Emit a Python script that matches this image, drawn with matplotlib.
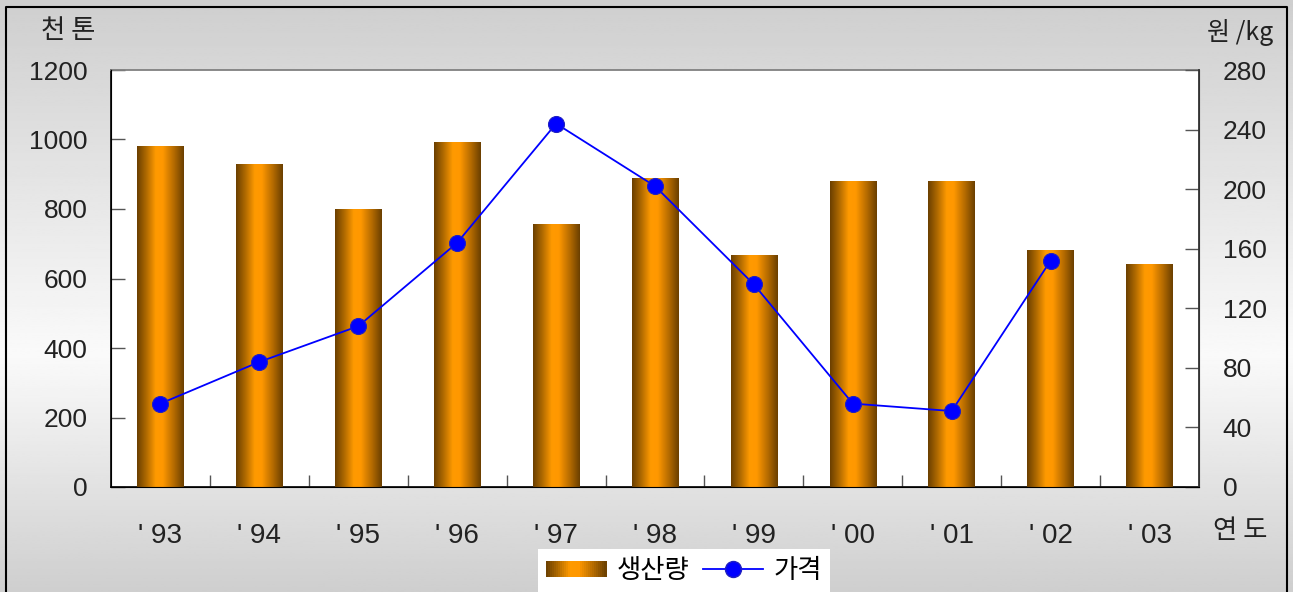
import numpy as np
import matplotlib
matplotlib.use("Agg")
import matplotlib.pyplot as plt
from matplotlib.colors import LinearSegmentedColormap
from matplotlib.patches import Rectangle
from matplotlib.lines import Line2D
from matplotlib.legend_handler import HandlerBase

plt.rcParams['font.family'] = ['Liberation Sans', 'Noto Sans CJK KR', 'DejaVu Sans']

years = ["' 93", "' 94", "' 95", "' 96", "' 97", "' 98", "' 99", "' 00", "' 01", "' 02", "' 03"]
production = [981, 929, 800, 993, 757, 889, 668, 881, 881, 682, 642]
price = [56, 84, 108, 164, 244, 202, 136, 56, 51, 152, np.nan]

bar_cmap = LinearSegmentedColormap.from_list(
    'bar', [(0.0, '#6a3f00'), (0.2, '#b06a00'), (0.4, '#ff9a00'), (0.55, '#ff9800'),
            (0.8, '#b06800'), (1.0, '#6a3f00')])

W, H = 1293, 592
fig = plt.figure(figsize=(W / 100, H / 100), dpi=100)

# background gradient
bg = fig.add_axes([0, 0, 1, 1], zorder=-10)
yy = np.linspace(0, 1, 300)
peak = 0.40
vals = np.where(yy < peak, 0.81 + (0.98 - 0.81) * (yy / peak),
                0.98 - (0.98 - 0.81) * ((yy - peak) / (1 - peak)))
img = np.repeat(vals[:, None], 2, axis=1)
bg.imshow(img, cmap='gray', vmin=0, vmax=1, aspect='auto', extent=[0, 1, 0, 1], origin='lower')
bg.set_xlim(0, 1); bg.set_ylim(0, 1); bg.axis('off')
# outer frame
x0, x1 = 6 / W, 1287 / W
yt = 1 - 7 / H
bg.plot([x0, x0, x1, x1], [0, yt, yt, 0], color='black', lw=1.5, transform=bg.transAxes, clip_on=False)

ax1 = fig.add_axes([111 / W, (H - 487) / H, (1199 - 111) / W, (487 - 70) / H])
ax1.set_facecolor('white')
x = np.arange(len(years))
bw = 0.47
bars = ax1.bar(x, production, width=bw, color='#ff9900', linewidth=0, zorder=2)
grad = np.linspace(0, 1, 256)[None, :]
for b in bars:
    bx, by = b.get_x(), b.get_y()
    im = ax1.imshow(grad, cmap=bar_cmap, aspect='auto',
                    extent=[bx, bx + b.get_width(), by, by + b.get_height()], zorder=3)
    im.set_clip_path(b)

ax1.set_xlim(-0.5, len(years) - 0.5)
ax1.set_ylim(0, 1200)
ax1.set_yticks(np.arange(0, 1201, 200))
ax1.set_xticks(x)
ax1.set_xticklabels(years)
ax1.set_xticks(np.arange(0.5, len(years) - 0.5, 1), minor=True)
ax1.tick_params(axis='x', which='major', length=0, pad=26, labelsize=20, colors='#222222')
ax1.tick_params(axis='x', which='minor', direction='in', length=9, width=1, color='#555555')
ax1.tick_params(axis='y', direction='in', length=10, width=1, color='#555555', pad=17,
                labelsize=19, labelcolor='#222222')
for s in ['left', 'bottom']:
    ax1.spines[s].set_color('#111111'); ax1.spines[s].set_linewidth(1.3)
ax1.spines['top'].set_color('#808080'); ax1.spines['top'].set_linewidth(1.3)
ax1.spines['right'].set_color('#333333')

ax2 = ax1.twinx()
ax2.set_ylim(0, 280)
ax2.set_yticks(np.arange(0, 281, 40))
ax2.plot(x, price, color='#0000ff', lw=1.3, marker='o', markersize=11.5,
         markerfacecolor='#0000ff', markeredgecolor='#2020c0', markeredgewidth=0.8, zorder=5)
ax2.tick_params(axis='y', direction='in', length=10, width=1, color='#555555', pad=17,
                labelsize=19, labelcolor='#222222')
ax2.spines['right'].set_color('#333333'); ax2.spines['right'].set_linewidth(1.3)
ax2.spines['top'].set_visible(False)

fig.text(68 / W, 1 - 31 / H, '천 톤', fontsize=19, ha='center', va='center', color='#222222',
         family=['Noto Sans CJK KR', 'DejaVu Sans'])
fig.text(1240 / W, 1 - 33 / H, '원 /kg', fontsize=18, ha='center', va='center', color='#222222',
         family=['Noto Sans CJK KR', 'DejaVu Sans'])
fig.text(1240 / W, 1 - 531 / H, '연 도', fontsize=19, ha='center', va='center', color='#222222',
         family=['Noto Sans CJK KR', 'DejaVu Sans'])


class GradHandler(HandlerBase):
    def create_artists(self, legend, orig_handle, xdescent, ydescent, width, height, fontsize, trans):
        arts = []
        n = 30
        for i in range(n):
            c = bar_cmap((i + 0.5) / n)
            r = Rectangle((-xdescent + width * i / n, -ydescent + height * 0.05), width / n + 0.3,
                          height * 0.9, facecolor=c, edgecolor='none', transform=trans)
            arts.append(r)
        return arts


h1 = Rectangle((0, 0), 1, 1)
h2 = Line2D([], [], color='#0000ff', lw=1.3, marker='o', markersize=11.5,
            markerfacecolor='#0000ff', markeredgecolor='#2020c0')
leg = fig.legend([h1, h2], ['생산량', '가격'], handler_map={Rectangle: GradHandler()},
                 loc='upper center', bbox_to_anchor=(684 / W, 56 / H), ncol=2,
                 frameon=True, fancybox=False, framealpha=1, edgecolor='white',
                 prop={'family': ['Noto Sans CJK KR', 'DejaVu Sans'], 'size': 19},
                 handlelength=2.3, handletextpad=0.4, columnspacing=0.5, borderpad=0.3)
leg.get_frame().set_linewidth(0)

fig.savefig('out.png', dpi=100)
